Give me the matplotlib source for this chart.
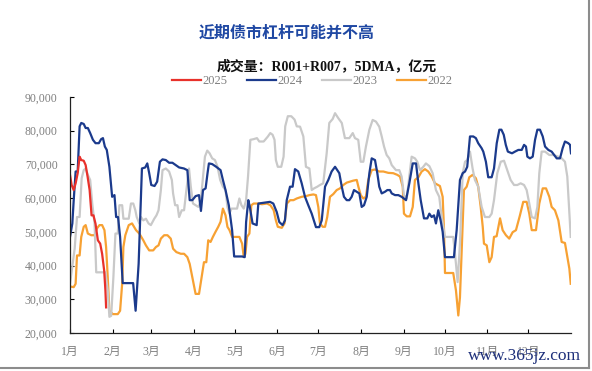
import matplotlib
matplotlib.use('Agg')
import matplotlib.pyplot as plt
from matplotlib.lines import Line2D
from matplotlib.ticker import FuncFormatter

# day of year / value (亿元, thousands)
days_2025 = [0, 1.2, 2.7, 4.1, 5.6, 7, 8.2, 10, 11.4, 12.8, 14.3, 15.7, 17.1, 18.6, 20.3,
             22, 23.4, 24.9, 25.8, 26.3]
vals_2025 = [66.9, 63.9, 62.4, 64.4, 67.4, 72.3, 71.3, 71.1, 69.8, 66.4, 62.4, 54.9, 54.9, 52.4, 47.5,
             46.5, 43.5, 38.5, 32.6, 27.6]

days_2024 = [0, 1.7, 2.7, 4.1, 5.6, 7, 8.2, 10, 11.4, 13, 14.7, 16.7, 18.6, 21, 22.7, 24, 25.4, 26.8,
             28.7, 30.7, 32.4, 33.6, 35, 36.5, 38.4, 43.2, 46, 47.8, 50, 52.4, 54.8, 56.3, 57.7,
             59.2, 61.6, 63.5, 65.5, 67.4, 69.8, 72.2, 74.6, 77, 79.5, 83, 85.5, 87.2, 89.1, 91.5,
             94, 95.4, 96.9, 98.8, 100.2, 101.2, 103.6, 106.5, 109.7, 111.4, 113.3, 115.7, 118.1,
             119.6, 122.5, 125.4, 127.3, 128.3, 129.9, 131, 133, 136, 137.2, 145.7, 148.1, 150.6,
             152.5, 154.9, 156.6, 157.9, 160.3, 162.2, 163.9, 166.3, 168.8, 171.2, 173.6, 176.1,
             179.2, 181.6, 183.4, 185.8, 188.2, 190.6, 193.1, 196.2, 198, 199.6, 201.6, 203.5,
             205.2, 206.9, 208.9, 210.8, 212.5, 214.2, 216.2, 218.1, 219.8, 222.2, 223.9, 225.3,
             227.1, 229.5, 231.2, 233.1, 234.4, 236.8, 239.2, 241.6, 244.8, 247.2, 249.7, 252.1,
             253.8, 255.5, 257.9, 260.3, 261.8, 263.5, 265.2, 266.6, 268.3, 270, 271.5, 273.2,
             276.8, 279.7, 281.7, 284.1, 286.1, 287.8, 289.4, 291.4, 293.8, 295.7, 297.4, 299.9,
             301.1, 303, 304.7, 307.2, 308.9, 310.9, 312.8, 314.3, 316, 317.5, 319, 322, 324.2,
             326.6, 329.1, 330.8, 332.2, 333.2, 335.1, 337.1, 338.8, 340.5, 342.4, 344.4, 346.1,
             348.5, 350.9, 354.6, 357, 358.9, 360.6, 363, 364.3, 365]
vals_2024 = [48.5, 52.5, 59.4, 67.9, 67.9, 81.3, 82.3, 82, 80.8, 80.8, 79.3, 77.3, 76.3, 76.3, 77.5,
             77.8, 75.3, 74.3, 69.3, 60.4, 60.9, 54.4, 54.4, 48.5, 34.8, 34.8, 34.8, 26.6, 40.5,
             68.8, 69.1, 70.3, 67.4, 63.9, 63.6, 64.9, 70.8, 71.5, 71.3, 70.5, 70.5, 69.8, 69.1,
             68.8, 68.3, 59.4, 59.4, 60.6, 60.9, 56.2, 62.4, 62.9, 67.4, 70.3, 70.1, 69.3, 68.3,
             65.4, 62.4, 57.9, 50.5, 42.7, 42.7, 42.7, 42.5, 52.9, 59.4, 57.4, 52.5, 52, 58.4,
             58.9, 58.4, 55.9, 52.9, 52, 53.4, 59.4, 63.4, 63.4, 68.6, 67.9, 64.4, 60.4, 57.9,
             55.4, 51.4, 51.4, 53.4, 63.4, 65.4, 67.9, 69.3, 67.4, 63.4, 60.4, 59.4, 59.4, 60.4,
             62.4, 61.9, 61.4, 57.4, 57.9, 60.4, 67.4, 71.8, 71.3, 67.4, 63.4, 61.4, 61.9, 62.4,
             62.4, 61.4, 60.9, 60.9, 60.4, 59.4, 64.4, 70.3, 70.3, 64.4, 59.4, 54, 54, 55.4, 54.4,
             54.9, 52.5, 56.4, 53.4, 50, 42.5, 42.5, 42.5, 50.5, 65.4, 67.4, 67.9, 69.3, 78.3,
             78.3, 77.8, 76.3, 74.8, 73.8, 70.8, 66.2, 66.2, 68.8, 76.3, 80.3, 80.3, 78.8, 75.8,
             73.8, 73.3, 73.8, 74.3, 74.3, 75.8, 75.3, 72.3, 71.8, 72.3, 77.3, 80.3, 80.3, 78.3,
             75.3, 74.3, 73.8, 71.8, 71.8, 74.8, 76.8, 76.3, 75.8, 73.3]

days_2023 = [0, 3.4, 5.1, 7, 8.5, 10, 11.4, 13, 14.7, 16.2, 17.9, 19.1, 25.8, 27.5, 28.7, 30, 31.6,
             33.1, 34.8, 36, 38, 38.9, 42.8, 44.4, 46.1, 47.6, 48.6, 50.5, 51.7, 53.4, 55.3, 57.2,
             58.9, 61.4, 63, 64.5, 66.2, 67.4, 69.8, 72.2, 74.2, 75.1, 76.6, 78.3, 79.5, 81.4,
             83.1, 84.8, 86.7, 88, 89.6, 91.5, 93.5, 95.2, 96.9, 98.3, 100, 101.7, 103.6, 105.6,
             107.5, 109.4, 111.4, 113.3, 114.7, 116.2, 117.6, 121.7, 123.4, 124.9, 126.6, 128.3,
             129.7, 131.4, 133.8, 136.2, 137.9, 141.1, 144.2, 145.9, 147.6, 149, 150, 151.4,
             153.9, 155.6, 156.8, 158.7, 161.2, 163.6, 165.2, 167.6, 170, 171.9, 174.4, 176.1,
             177.8, 180.2, 182.1, 184.5, 187, 188.9, 191.4, 193.1, 195.5, 198, 200.3, 203.5, 206,
             207.6, 210, 211.8, 213.7, 215.6, 218.1, 220.5, 222.9, 225.3, 227.1, 228.8, 230.7,
             232.6, 234.4, 237.5, 239.9, 241.6, 243.3, 245.3, 247.2, 248.9, 251.3, 253, 255,
             257.4, 259.3, 261.8, 264.2, 266.6, 269, 270.8, 273.2, 279.2, 281.2, 282.4, 284.1,
             286.1, 287.8, 289.4, 291.4, 293.3, 295, 297.4, 299.9, 302.3, 305.5, 307.2, 308.9,
             311.3, 313.8, 316.2, 318.6, 321, 323.5, 325.9, 328.3, 330.8, 332.7, 334.6, 336.4,
             338.8, 340.5, 341.9, 343.6, 346.1, 349.2, 352.1, 355.8, 358.2, 360.6, 362.3, 363.8,
             364.8]
vals_2023 = [34.6, 45, 54.4, 54.4, 65.9, 68.3, 68.8, 66.9, 65.4, 58.4, 52.5, 38, 38, 32.6, 24.8,
             25.1, 36.5, 49.5, 49.5, 57.9, 57.9, 53.9, 53.9, 58.4, 58.4, 56.4, 54.4, 52.5, 54.4,
             53.4, 53.9, 52.5, 52, 53.9, 54.9, 56.4, 62.4, 68.3, 68.8, 67.9, 65.4, 61.4, 57.9,
             57.9, 54.4, 56.4, 56.4, 62.4, 68.8, 63.4, 58.4, 57.9, 57.4, 58.9, 66.4, 72.3, 74.1,
             73.3, 71.8, 71.3, 69.3, 65.4, 63.4, 62.4, 57.4, 55.4, 56.9, 56.9, 59.9, 57.9, 56.9,
             59.4, 66.4, 77.3, 77.5, 77.8, 76.8, 76.8, 78.3, 79.3, 78.8, 77.3, 71.3, 69.3, 69.3,
             72.3, 81.3, 84.3, 84.3, 83.3, 81.3, 81.2, 78.3, 69.3, 68.8, 62.4, 62.9, 63.4, 63.9,
             64.4, 73.3, 82.3, 83.5, 85.2, 83.7, 82.3, 77.8, 77.8, 79.3, 77.8, 77.3, 70.8, 70.8,
             75.3, 80.3, 83.2, 82.7, 81.2, 78.3, 75.3, 72.8, 71.8, 69.8, 68.3, 68.3, 66.4, 60.9,
             59.9, 66.4, 72.3, 71.8, 70.8, 68.3, 69.3, 70.3, 69.5, 67.4, 62.4, 60.4, 54.4, 48.5,
             48.5, 40.5, 35.1, 46.5, 67.4, 70.8, 71.3, 73.8, 68.8, 65.4, 63.4, 57.4, 54.4, 54.4,
             55.4, 59.4, 67.4, 70.8, 71.1, 68.3, 65.4, 63.9, 63.9, 64.4, 63.9, 62.4, 58.4, 54.4,
             54, 57.4, 67.4, 73.8, 73.8, 72.8, 72.8, 72.3, 71.8, 70.8, 66.4, 55.4, 48.5]

days_2022 = [0, 2.7, 4.1, 5.1, 7, 8.2, 10, 11.4, 13, 15.5, 17.9, 19.6, 21.5, 23.4, 25.1, 26.3, 27.5,
             28.7, 31.2, 34.8, 36.5, 38, 38.9, 40.3, 42.8, 45.2, 48.1, 50.5, 53.4, 55.3, 57.7,
             60.6, 62.6, 64.5, 66.2, 68.6, 71, 73.4, 75.1, 77.5, 80.7, 83.1, 85.5, 87.2, 89.1,
             91.5, 94, 95.9, 97.6, 99.3, 100.7, 102.4, 104.1, 106, 108, 109.7, 111.4, 113.3,
             114.7, 116.2, 118.1, 120.5, 123.4, 125.4, 126.6, 127.8, 129, 130.7, 132.1, 133.8,
             137, 139.9, 143.5, 146, 148.4, 150, 151.4, 154.3, 156.3, 158, 160.4, 162.8, 165.2,
             168.8, 171.9, 174.4, 177.3, 179.2, 180.9, 182.1, 184.1, 185.8, 187.4, 189.4, 191.8,
             194.3, 196.7, 199.1, 201.6, 204, 206.4, 208.9, 210.1, 211.8, 213.7, 215.6, 217.3,
             219.8, 222.2, 225.3, 228.3, 231.9, 235.5, 238.5, 240.4, 242.4, 243.3, 245.3, 247.7,
             249.7, 251.3, 253.8, 256.2, 258.6, 261, 263.5, 265.9, 269.5, 271.5, 272.5, 273.2,
             276.8, 279.2, 281.2, 282.9, 284.1, 285.4, 287, 289, 290.9, 293.3, 295.7, 297.4,
             299.2, 300.7, 301.6, 303.6, 305.5, 307.2, 308.9, 310.8, 313.3, 315.2, 317.6, 320,
             322.5, 324.9, 327.8, 330.2, 332.7, 334.6, 336.4, 339.5, 341.9, 344.4, 346.8, 349.2,
             350.9, 353.3, 355.8, 358.2, 360.6, 362.3, 363.8, 364.8]
vals_2022 = [33.8, 33.6, 34.6, 43, 43, 48.5, 51.5, 52, 49.5, 49, 49, 51, 52, 52, 50.5, 45.5, 36.5,
             26.6, 25.6, 25.6, 26.6, 34.6, 45.5, 49, 52, 52.5, 50.5, 49.5, 47.5, 46, 44.5, 44.5,
             45.5, 46, 48, 49, 49, 48, 45, 44, 43.5, 43.5, 42.5, 40.5, 36.5, 31.6, 31.6, 36.5,
             41, 41, 47.5, 47, 48.5, 50, 51.5, 53, 56.9, 54.9, 51.5, 50.5, 48.5, 48.5, 48.5,
             46.5, 42.5, 43.5, 48.5, 49.5, 57.9, 58.4, 58.4, 58.2, 58.4, 57.9, 56.4, 53.4, 51.5,
             51.2, 52.5, 58.4, 59.4, 59.4, 59.9, 60.4, 60.6, 60.9, 61.1, 60.9, 57.4, 52.5, 51.5,
             51.5, 54.4, 60.4, 61.2, 62.4, 62.9, 63.9, 64.6, 64.9, 65.2, 65.4, 63.4, 60.9, 59.9,
             60.4, 65.4, 68.3, 68.5, 67.9, 67.9, 67.5, 67.4, 66.9, 66.4, 63.4, 55.4, 54.6, 54.6,
             57.4, 65.4, 66.2, 67.9, 68.6, 67.9, 66.4, 64.4, 63.6, 60.4, 50.5, 37.8, 37.8, 37.8,
             32.6, 25.2, 30.6, 44.5, 62.4, 63.4, 66.2, 66.9, 65.9, 63.4, 57.4, 51.5, 46.5, 46,
             41, 42.5, 48.5, 48.7, 54, 50.5, 49, 48, 49.9, 50.5, 54.9, 58.9, 58.9, 55.4, 50.5,
             50.5, 58.4, 62.9, 62.9, 60.4, 57.4, 56.4, 53.4, 47, 46.7, 42.7, 39.1, 34.6]

month_starts = [0, 31, 59, 90, 120, 151, 181, 212, 243, 273, 304, 334]
month_labels = ['%d月' % m for m in range(1, 13)]

series = [
    ('2022', days_2022, vals_2022, '#f7a133'),
    ('2023', days_2023, vals_2023, '#c9c9c9'),
    ('2024', days_2024, vals_2024, '#1b3a8c'),
    ('2025', days_2025, vals_2025, '#e8312b'),
]

serif_cjk = ['Liberation Serif', 'Noto Sans CJK SC']
gray = '#7f7f7f'

fig = plt.figure(figsize=(5.92, 3.71), dpi=100)
ax = fig.add_axes([70 / 592, 1 - 333 / 371, 501 / 592, 236 / 371])

for name, d, v, color in series:
    ax.plot(d, [x * 1000 for x in v], color=color, lw=1.6, solid_joinstyle='round')

ax.set_xlim(0, 365)
ax.set_ylim(20000, 90000)
ax.set_yticks(range(20000, 90001, 10000))
ax.yaxis.set_major_formatter(FuncFormatter(lambda x, p: '{:,.0f}'.format(x)))
ax.set_xticks(month_starts)
ax.set_xticklabels(month_labels)

for s in ['top', 'right']:
    ax.spines[s].set_visible(False)
for s in ['left', 'bottom']:
    ax.spines[s].set_color('#222222')
    ax.spines[s].set_linewidth(0.9)

ax.tick_params(axis='y', direction='in', length=3, width=0.8, pad=9, labelsize=8.5, labelcolor=gray)
ax.tick_params(axis='x', direction='in', length=3, width=0.8, pad=9, labelsize=8.5, labelcolor=gray)
for lab in ax.get_yticklabels() + ax.get_xticklabels():
    lab.set_family(serif_cjk)

# titles
fig.text(287 / 592, 1 - 33 / 371, '近期债市杠杆可能并不高', ha='center', va='center',
         fontsize=11.5, fontweight='bold', color='#1f48a3', family=['Noto Sans CJK SC'])
fig.text(327 / 592, 1 - 66 / 371, '成交量：R001+R007，5DMA，亿元', ha='center', va='center',
         fontsize=10, fontweight='bold', color='#111111', family=serif_cjk)

# legend in 2025..2022 order
handles = [Line2D([], [], color=c, lw=1.6) for _, _, _, c in series[::-1]]
labels = [n for n, _, _, _ in series[::-1]]
leg = fig.legend(handles, labels, loc='center', bbox_to_anchor=(312 / 592, 1 - 81 / 371),
                 ncol=4, frameon=False, fontsize=9, handlelength=2.3, handletextpad=0.1,
                 columnspacing=1.6, prop={'family': 'Liberation Serif', 'size': 9})
for t in leg.get_texts():
    t.set_color(gray)

# watermark
fig.text(581 / 592, 1 - 356 / 371, 'www.365jz.com', ha='right', va='center', fontsize=12.5,
         color='#1d2f7a', family='Liberation Serif')

# outer frame on right/bottom
fig.add_artist(Line2D([589 / 592, 589 / 592], [1 - 368 / 371, 1], transform=fig.transFigure,
                      color='#8c8c8c', lw=1.5))
fig.add_artist(Line2D([0, 589 / 592], [1 - 368 / 371, 1 - 368 / 371], transform=fig.transFigure,
                      color='#8c8c8c', lw=1.5))

fig.savefig('out.png', dpi=100)
